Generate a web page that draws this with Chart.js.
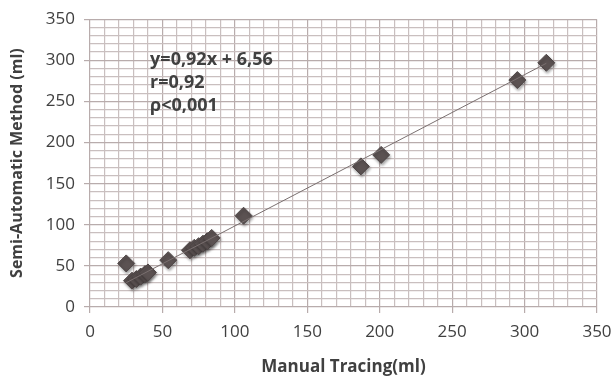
<!DOCTYPE html>
<html>
<head>
<meta charset="utf-8">
<script src="https://cdn.jsdelivr.net/npm/chart.js@4"></script>
<style>
  body { margin: 0; background: #fff; }
  #wrap { width: 614px; height: 377px; }
</style>
</head>
<body>
<div id="wrap"><canvas id="chart" width="614" height="377"></canvas></div>
<script>
// data
const manualTracing = [25, 29, 32, 35, 38, 40, 54, 69, 72, 75, 78, 81, 84, 106, 187, 201, 295, 315];
const semiAutomatic = [53, 32, 34, 37, 40, 42, 57, 69, 72, 74, 77, 80, 84, 111, 171, 185, 276, 297];
const fitSlope = 0.92;
const fitIntercept = 6.56;
const fitRange = [25, 315];
const annotation = ["y=0,92x + 6,56", "r=0,92", "\u03c1<0,001"];

const gridColor = "#c9bfbf";
const majorColor = "#b8acac";
const textColor = "#404040";
const font = "'Open Sans', 'Liberation Sans', sans-serif";

const points = manualTracing.map((x, i) => ({ x: x, y: semiAutomatic[i] }));
const fitLine = fitRange.map((x) => ({ x: x, y: fitSlope * x + fitIntercept }));

// Text box
const textPlugin = {
  id: "textBox",
  afterDatasetsDraw(chart) {
    const ctx = chart.ctx;
    const xs = chart.scales.x;
    const ys = chart.scales.y;
    ctx.save();
    ctx.fillStyle = textColor;
    ctx.font = "bold 18px " + font;
    ctx.textBaseline = "middle";
    let y = ys.getPixelForValue(301);
    annotation.forEach((line) => {
      ctx.fillText(line, xs.getPixelForValue(41.5), y);
      y += 23;
    });
    ctx.restore();
  },
};

// shadow under markers
const shadowPlugin = {
  id: "shadow",
  beforeDatasetDraw(chart, args) {
    if (args.index === 1) {
      chart.ctx.save();
      chart.ctx.shadowColor = "rgba(0,0,0,0.35)";
      chart.ctx.shadowBlur = 3;
      chart.ctx.shadowOffsetX = 1;
      chart.ctx.shadowOffsetY = 2;
    }
  },
  afterDatasetDraw(chart, args) {
    if (args.index === 1) chart.ctx.restore();
  },
};

const ctx = document.getElementById("chart").getContext("2d");
const chart = new Chart(ctx, {
  type: "scatter",
  data: {
    datasets: [
      {
        type: "line",
        data: fitLine,
        borderColor: "#7a7070",
        borderWidth: 1,
        pointRadius: 0,
        fill: false,
      },
      {
        data: points,
        pointStyle: "rectRot",
        pointRadius: 8.5,
        backgroundColor: "#5b5252",
        borderColor: "#4e4646",
        borderWidth: 1,
      },
    ],
  },
  options: {
    responsive: false,
    animation: false,
    layout: { padding: { top: 9, right: 0, left: 8, bottom: 0 } },
    plugins: { legend: { display: false }, tooltip: { enabled: false } },
    scales: {
      x: {
        type: "linear",
        min: 0,
        max: 350,
        border: { display: false },
        afterFit: (s) => {
          s.height = 70;
          s.paddingRight = 17;
        },
        ticks: {
          stepSize: 10,
          autoSkip: false,
          maxRotation: 0,
          padding: 9,
          color: textColor,
          font: { family: font, size: 17 },
          callback: (v) => (v % 50 === 0 ? v : ""),
        },
        grid: {
          color: (c) => (c.tick && c.tick.value % 50 === 0 ? majorColor : gridColor),
          lineWidth: 1.2,
          tickLength: 6,
          tickColor: (c) => (c.tick && c.tick.value % 50 === 0 ? majorColor : "transparent"),
        },
        title: {
          display: true,
          text: "Manual Tracing(ml)",
          color: textColor,
          font: { family: font, size: 17, weight: "bold" },
          padding: { top: 2, bottom: 0 },
        },
      },
      y: {
        type: "linear",
        min: 0,
        max: 350,
        border: { display: false },
        afterFit: (s) => { s.width = 82; },
        ticks: {
          stepSize: 10,
          autoSkip: false,
          padding: 9,
          color: textColor,
          font: { family: font, size: 17 },
          callback: (v) => (v % 50 === 0 ? v : ""),
        },
        grid: {
          color: (c) => (c.tick && c.tick.value % 50 === 0 ? majorColor : gridColor),
          lineWidth: 1.2,
          tickLength: 6,
          tickColor: (c) => (c.tick && c.tick.value % 50 === 0 ? majorColor : "transparent"),
        },
        title: {
          display: true,
          text: "Semi-Automatic Method (ml)",
          color: textColor,
          font: { family: font, size: 16, weight: "bold" },
          padding: { top: 0, bottom: 4 },
        },
      },
    },
  },
  plugins: [textPlugin, shadowPlugin],
});
</script>
</body>
</html>
